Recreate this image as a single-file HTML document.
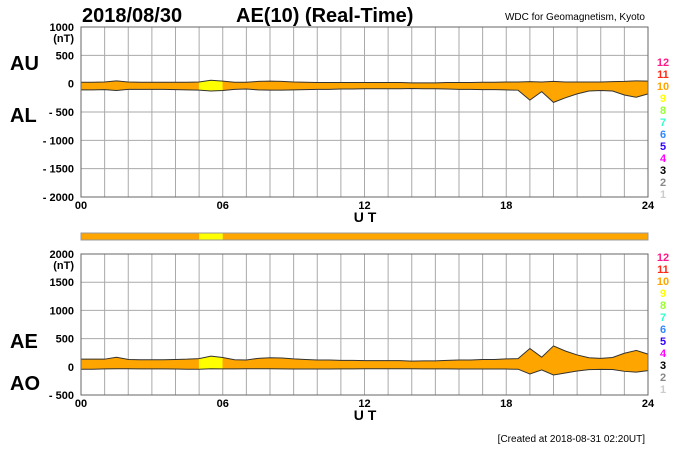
<!DOCTYPE html>
<html><head><meta charset="utf-8"><style>
body{margin:0;background:#fff;}
svg{display:block;font-family:"Liberation Sans",Arial,sans-serif;}
</style></head><body>
<svg id="c" width="700" height="450" viewBox="0 0 700 450"></svg>
<script>
const hours = [0,0.5,1,1.5,2,2.5,3,3.5,4,4.5,5,5.5,6,6.5,7,7.5,8,8.5,9,9.5,10,10.5,11,11.5,12,12.5,13,13.5,14,14.5,15,15.5,16,16.5,17,17.5,18,18.5,19,19.5,20,20.5,21,21.5,22,22.5,23,23.5,24];
const auValues = [25,25,30,50,30,25,25,25,25,25,30,60,45,25,25,40,45,40,30,25,20,20,20,20,20,20,20,20,15,15,15,20,20,20,25,25,30,30,35,30,40,30,30,30,30,35,40,50,45];
const alValues = [-110,-110,-105,-120,-100,-100,-100,-100,-105,-110,-115,-130,-120,-100,-95,-110,-115,-115,-110,-105,-100,-100,-95,-95,-90,-90,-90,-90,-85,-90,-90,-95,-100,-100,-105,-105,-110,-115,-290,-140,-330,-250,-180,-130,-120,-130,-200,-240,-180];
const levels = [10,10,10,10,10,10,10,10,10,10,9,9,10,10,10,10,10,10,10,10,10,10,10,10,10,10,10,10,10,10,10,10,10,10,10,10,10,10,10,10,10,10,10,10,10,10,10,10,10];
const topTicks = [1000,500,0,-500,-1000,-1500,-2000];
const topTickLabels = ["1000","500","0","- 500","- 1000","- 1500","- 2000"];
const botTicks = [2000,1500,1000,500,0,-500];
const botTickLabels = ["2000","1500","1000","500","0","- 500"];
const xTicks = [0,6,12,18,24];
const xTickLabels = ["00","06","12","18","24"];
const legendLevels = ["12","11","10","9","8","7","6","5","4","3","2","1"];
const levelColors = {12:"#ff1a8c",11:"#ff2a1a",10:"#ffa500",9:"#ffff00",8:"#99ff33",7:"#33ffcc",6:"#3388ff",5:"#3300ff",4:"#ff00ff",3:"#000000",2:"#888888",1:"#cccccc"};

const S=document.getElementById('c');const NS="http://www.w3.org/2000/svg";
function el(t,a,p){const e=document.createElementNS(NS,t);for(const k in a)e.setAttribute(k,a[k]);(p||S).appendChild(e);return e;}
function tx(x,y,s,a){const e=el('text',Object.assign({x:x,y:y},a));e.textContent=s;return e;}
const X0=81,X1=648;
const xs=h=>X0+(X1-X0)*h/24;
const panels=[
 {name:'au-al',top:27,bot:197,max:1000,min:-2000,ticks:topTicks,labels:topTickLabels,a:auValues,b:alValues,l1:'AU',l2:'AL',y1:70,y2:122},
 {name:'ae-ao',top:254,bot:395,max:2000,min:-500,ticks:botTicks,labels:botTickLabels,
  a:auValues.map((v,i)=>v-alValues[i]),b:auValues.map((v,i)=>(v+alValues[i])/2),l1:'AE',l2:'AO',y1:348,y2:390}
];
tx(82,22,"2018/08/30",{'font-size':20,'font-weight':'bold',});
tx(236,22,"AE(10) (Real-Time)",{'font-size':20,'font-weight':'bold',});
tx(645,20,"WDC for Geomagnetism, Kyoto",{'font-size':10,'text-anchor':'end',});
tx(645,442,"[Created at 2018-08-31 02:20UT]",{'font-size':10,'text-anchor':'end',});
panels.forEach(p=>{
 const ys=v=>p.top+(p.bot-p.top)*(p.max-v)/(p.max-p.min);
 const g=el('g',{});
 
 
 for(let h=0;h<=24;h++)el('line',{x1:xs(h),x2:xs(h),y1:p.top,y2:p.bot,stroke:'#aaa','stroke-width':1},g);
 p.ticks.forEach((t,i)=>{el('line',{x1:X0,x2:X1,y1:ys(t),y2:ys(t),stroke:'#aaa','stroke-width':1},g);
  const lb=tx(74,ys(t)+4,p.labels[i],{'font-size':11,'font-weight':'bold','text-anchor':'end'});
  });
 tx(74,ys(p.max)+15,"(nT)",{'font-size':11,'font-weight':'bold','text-anchor':'end'});
 for(let i=0;i<hours.length-1;i++){
  const poly=el('polygon',{points:`${xs(hours[i])},${ys(p.a[i])} ${xs(hours[i+1])},${ys(p.a[i+1])} ${xs(hours[i+1])},${ys(p.b[i+1])} ${xs(hours[i])},${ys(p.b[i])}`,fill:levelColors[levels[i]],stroke:levelColors[levels[i]],'stroke-width':0.5},g);
  
 }
 [p.a,p.b].forEach((arr,k)=>{const pl=el('polyline',{points:hours.map((h,i)=>xs(h)+','+ys(arr[i])).join(' '),fill:'none',stroke:'#333','stroke-width':1},g);
  });
 el('rect',{x:X0,y:p.top,width:X1-X0,height:p.bot-p.top,fill:'none',stroke:'#666','stroke-width':1},g);
 xTicks.forEach((h,i)=>tx(xs(h),p.bot+12,xTickLabels[i],{'font-size':11,'font-weight':'bold','text-anchor':'middle'}));
 tx(365,p.bot+25,"U T",{'font-size':14,'font-weight':'bold','text-anchor':'middle'});
 tx(10,p.y1,p.l1,{'font-size':20,'font-weight':'bold'});
 tx(10,p.y2,p.l2,{'font-size':20,'font-weight':'bold'});
 legendLevels.forEach((l,i)=>{const t=tx(663,p.top+39+i*12-(p.name=='ae-ao'?32:0),l,{'font-size':11,'font-weight':'bold','text-anchor':'middle',fill:levelColors[+l]});
  });
});
const bar=el('g',{});


for(let i=0;i<hours.length-1;i++)el('rect',{x:xs(hours[i]),y:233,width:xs(hours[i+1])-xs(hours[i])+0.5,height:7,fill:levelColors[levels[i]]},bar);
el('rect',{x:X0,y:233,width:X1-X0,height:7,fill:'none',stroke:'#999','stroke-width':1},bar);
</script>
</body></html>
